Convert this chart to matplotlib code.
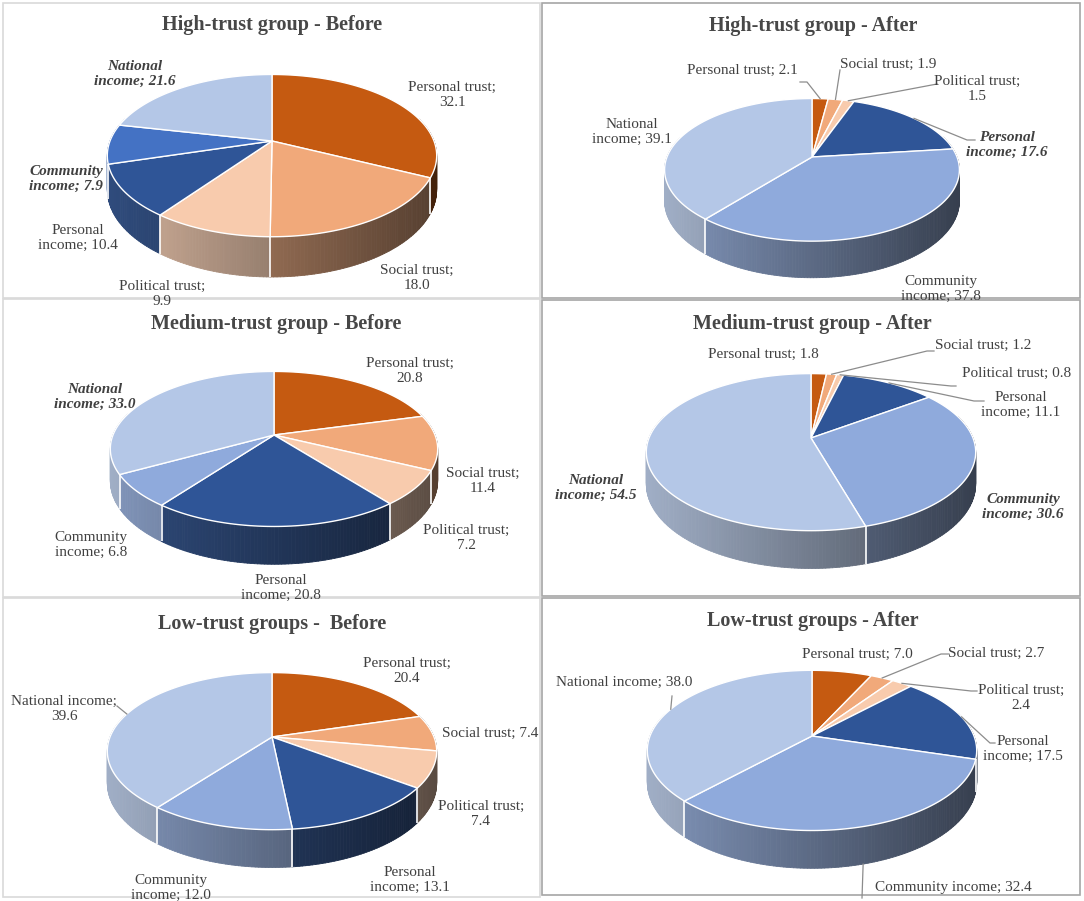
import numpy as np
import matplotlib
matplotlib.use('Agg')
from matplotlib import pyplot as plt
from matplotlib import patches
from matplotlib.collections import PolyCollection
from matplotlib.colors import to_rgb

# data
categories = ['Personal trust', 'Social trust', 'Political trust',
              'Personal income', 'Community income', 'National income']

high_before = [32.1, 18.0, 9.9, 10.4, 7.9, 21.6]
high_after = [2.1, 1.9, 1.5, 17.6, 37.8, 39.1]
medium_before = [20.8, 11.4, 7.2, 20.8, 6.8, 33.0]
medium_after = [1.8, 1.2, 0.8, 11.1, 30.6, 54.5]
low_before = [20.4, 7.4, 7.4, 13.1, 12.0, 39.6]
low_after = [7.0, 2.7, 2.4, 17.5, 32.4, 38.0]

titles = ['High-trust group - Before', 'High-trust group - After',
          'Medium-trust group - Before', 'Medium-trust group - After',
          'Low-trust groups -  Before', 'Low-trust groups - After']

COLORS = ['#C55A11', '#F1A97A', '#F8CBAD', '#2F5597', '#8FAADC', '#B4C7E7']
COLORS_HB = ['#C55A11', '#F1A97A', '#F8CBAD', '#2F5597', '#4472C4', '#B4C7E7']
TEXT = '#404040'
FONT = 'Liberation Serif'
PERSP = 0.18

# (cx, cy, rx, ry, depth) in pixels
pies = [(272, 141, 162, 78.5, 33), (812, 157, 145, 69, 30),
        (274, 435, 161, 75, 31), (811, 438, 162, 76, 31),
        (272, 737, 162, 76, 31), (812, 736, 162, 77.5, 31)]

title_pos = [(272, 25), (813, 26), (276, 324), (812, 324), (272, 624), (813, 621)]

# label layout: (x, y, line style, bold italic, leader)
# style 0 one line, 1 break after first word, 2 break after ';'
layouts = [
    [(452, 95, 2, False, None), (417, 278, 2, False, None), (162, 294, 2, False, None),
     (78, 238, 1, False, None), (66, 179, 1, True, None), (135, 74, 1, True, None)],
    [(742, 70, 0, False, (800, 82, 7)), (888, 64, 0, False, (840, 70, 0)),
     (977, 89, 2, False, (937, 84, 0)), (1007, 145, 1, True, (975, 140, -8)),
     (941, 289, 1, False, None), (632, 132, 1, False, None)],
    [(410, 371, 2, False, None), (483, 481, 2, False, None), (466, 538, 2, False, None),
     (281, 588, 1, False, None), (91, 545, 1, False, None), (95, 397, 1, True, None)],
    [(763, 354, 0, False, None), (983, 345, 0, False, (934, 351, -7)),
     (1017, 373, 0, False, (956, 386, -5)), (1021, 405, 1, False, (984, 401, -10)),
     (1023, 507, 1, True, None), (596, 488, 1, True, None)],
    [(407, 671, 2, False, None), (490, 733, 0, False, None), (481, 814, 2, False, None),
     (410, 880, 1, False, None), (171, 888, 1, False, None), (64, 709, 2, False, (117, 706, 0))],
    [(857, 654, 0, False, None), (996, 653, 0, False, (949, 654, -8)),
     (1021, 698, 2, False, (977, 691, -6)), (1023, 749, 1, False, (995, 743, -5)),
     (953, 888, 0, False, (862, 898, 0)), (624, 682, 0, False, (672, 696, 0))],
]

# panel frames: (x0, y0, x1, y1, color)
frames = [(3, 3, 540, 298, '#d9d9d9'), (542, 3, 1080, 298, '#a6a6a6'),
          (3, 299, 540, 597, '#d9d9d9'), (542, 300, 1080, 596, '#a6a6a6'),
          (3, 598, 540, 897, '#d9d9d9'), (542, 598, 1080, 895, '#a6a6a6')]


def project(pie, t, drop=0.0):
    cx, cy, rx, ry, depth = pie
    phi = 2 * np.pi * np.asarray(t, dtype=float)
    X = np.sin(phi)
    Z = -np.cos(phi)
    k = 1.0 / (1.0 - PERSP * Z)
    return cx + rx * X * k, cy + ry * Z * k + drop * depth * k, Z


def label_text(name, value, style):
    if style == 0:
        return f'{name}; {value:.1f}'
    if style == 1:
        first, rest = name.split(' ', 1)
        return f'{first}\n{rest}; {value:.1f}'
    return f'{name};\n{value:.1f}'


def draw_pie(ax, pie, values, colors):
    cx, cy, rx, ry, depth = pie
    fr = np.concatenate([[0], np.cumsum(values)]) / np.sum(values)

    # side walls, painted back to front
    polys, fcs, zs = [], [], []
    for i in range(len(values)):
        n = max(2, int(np.ceil((fr[i + 1] - fr[i]) * 360)))
        t = np.linspace(fr[i], fr[i + 1], n + 1)
        x0, y0, z = project(pie, t)
        x1, y1, _ = project(pie, t, 1)
        base = np.array(to_rgb(colors[i]))
        base = 0.85 * base + 0.15 * base.mean()
        for j in range(n):
            zm = (z[j] + z[j + 1]) / 2
            if zm < -0.3:
                continue
            xn = ((x0[j] + x0[j + 1]) / 2 - cx) / rx
            f = np.clip(0.62 - 0.25 * xn, 0.3, 0.9)
            polys.append([(x0[j], y0[j]), (x0[j + 1], y0[j + 1]),
                          (x1[j + 1], y1[j + 1]), (x1[j], y1[j])])
            fcs.append(base * f)
            zs.append(zm)
    order = np.argsort(zs)
    ax.add_collection(PolyCollection([polys[o] for o in order],
                                     facecolors=[fcs[o] for o in order],
                                     edgecolors=[fcs[o] for o in order],
                                     linewidths=0.6))

    # white seams on the front wall
    for b in fr[:-1]:
        xt, yt, z = project(pie, b)
        _, yb, _ = project(pie, b, 1)
        if z > PERSP:
            ax.plot([xt, xt], [yt, yb], color='white', lw=1.2, solid_capstyle='butt')

    # top faces
    for i in range(len(values)):
        n = max(2, int(np.ceil((fr[i + 1] - fr[i]) * 360)))
        t = np.linspace(fr[i], fr[i + 1], n + 1)
        x, y, _ = project(pie, t)
        pts = np.column_stack([np.r_[cx, x], np.r_[cy, y]])
        ax.add_patch(patches.Polygon(pts, closed=True, facecolor=colors[i],
                                     edgecolor='white', lw=1.0, joinstyle='round'))
    return fr


def main():
    plt.rcParams['font.family'] = [FONT, 'DejaVu Serif']
    fig = plt.figure(figsize=(10.84, 9.01), dpi=100)
    ax = fig.add_axes([0, 0, 1, 1])
    ax.set_xlim(0, 1084)
    ax.set_ylim(901, 0)
    ax.axis('off')

    all_values = [high_before, high_after, medium_before, medium_after, low_before, low_after]

    for p, values in enumerate(all_values):
        x0, y0, x1, y1, fc = frames[p]
        ax.add_patch(patches.Rectangle((x0, y0), x1 - x0, y1 - y0, fill=False,
                                       edgecolor=fc, lw=1.2))
        pie = pies[p]
        colors = COLORS_HB if p == 0 else COLORS
        fr = draw_pie(ax, pie, values, colors)

        ax.text(*title_pos[p], titles[p], ha='center', va='center', fontsize=14.5,
                fontweight='bold', color='#474747')

        for i, (lx, ly, style, emph, leader) in enumerate(layouts[p]):
            txt = label_text(categories[i], values[i], style)
            kw = dict(fontweight='bold', fontstyle='italic') if emph else {}
            ax.text(lx, ly, txt, ha='center', va='center', multialignment='center',
                    fontsize=11, color=TEXT, linespacing=1.2, **kw)
            if leader is not None:
                ax_, ay_, ex = leader
                tm = (fr[i] + fr[i + 1]) / 2
                rxp, ryp, z = project(pie, tm)
                if z > 0.35:
                    rxp, ryp, _ = project(pie, tm, 1)
                ax.plot([float(rxp), ax_ + ex, ax_], [float(ryp), ay_, ay_],
                        color='#8c8c8c', lw=0.9)

    fig.savefig('out.png', dpi=100, facecolor='white')


if __name__ == '__main__':
    main()
